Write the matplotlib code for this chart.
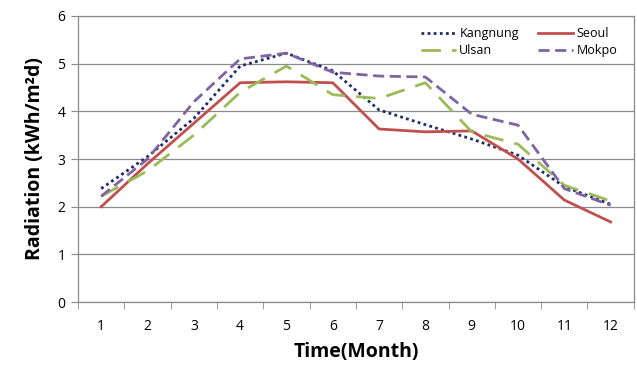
import matplotlib.pyplot as plt
from matplotlib.ticker import FixedLocator, NullFormatter

plt.rcParams['font.family'] = ['Open Sans', 'DejaVu Sans']

months = [1, 2, 3, 4, 5, 6, 7, 8, 9, 10, 11, 12]
kangnung = [2.38, 3.05, 3.85, 4.95, 5.22, 4.85, 4.03, 3.72, 3.42, 3.08, 2.42, 2.05]
seoul = [2.0, 2.9, 3.75, 4.6, 4.62, 4.6, 3.63, 3.57, 3.59, 3.0, 2.14, 1.68]
ulsan = [2.22, 2.75, 3.5, 4.4, 4.95, 4.35, 4.27, 4.6, 3.57, 3.31, 2.45, 2.12]
mokpo = [2.22, 3.0, 4.2, 5.1, 5.22, 4.82, 4.74, 4.72, 3.94, 3.71, 2.38, 2.03]

fig = plt.figure(figsize=(6.37, 3.72), dpi=100)
ax = fig.add_axes([0.1225, 0.188, 0.8725, 0.769])

l1, = ax.plot(months, kangnung, color='#1f2a6b', lw=2, ls=(0, (1, 1.2)), label='Kangnung')
l2, = ax.plot(months, seoul, color='#c0504d', lw=2, label='Seoul')
l3, = ax.plot(months, ulsan, color='#9bbb59', lw=2, ls=(0, (7, 4)), label='Ulsan')
l4, = ax.plot(months, mokpo, color='#8064a2', lw=2, ls=(0, (4, 2)), label='Mokpo')

ax.set_xlim(0.5, 12.5)
ax.set_ylim(0, 6)
ax.set_yticks(range(0, 7))
ax.set_xticks(months)
ax.xaxis.set_minor_locator(FixedLocator([m + 0.5 for m in range(0, 13)]))
ax.xaxis.set_minor_formatter(NullFormatter())
ax.tick_params(axis='x', which='major', length=0, pad=12, labelsize=10)
ax.tick_params(axis='x', which='minor', length=5, color='#888888', direction='out')
ax.tick_params(axis='y', length=5, color='#888888', labelsize=10, pad=4)

ax.grid(axis='y', color='#8c8c8c', lw=0.9)
ax.set_axisbelow(True)
for side in ['left', 'bottom', 'top', 'right']:
    ax.spines[side].set_color('#8c8c8c')
    ax.spines[side].set_linewidth(0.9)

ax.set_xlabel('Time(Month)', fontsize=14, fontweight='bold', labelpad=6)
ax.set_ylabel('Radiation (kWh/m²d)', fontsize=14, fontweight='bold', labelpad=9)

# two columns filled column-wise: Kangnung/Ulsan left, Seoul/Mokpo right
ax.legend([l1, l3, l2, l4], ['Kangnung', 'Ulsan', 'Seoul', 'Mokpo'],
          loc='upper right', ncol=2, frameon=False, fontsize=9,
          handlelength=2.8, columnspacing=1.5, handletextpad=0.3,
          labelspacing=0.3, bbox_to_anchor=(0.99, 1.0))

fig.savefig('out.png', dpi=100)
